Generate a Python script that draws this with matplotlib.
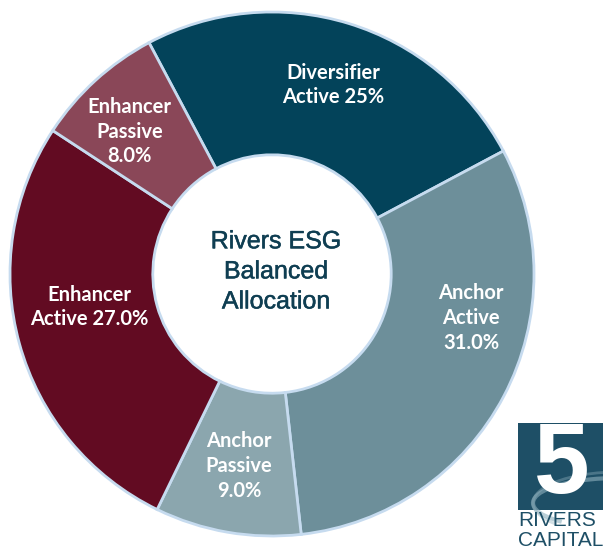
import numpy as np
import matplotlib
matplotlib.use("Agg")
import matplotlib.pyplot as plt
import matplotlib.patheffects as pe
from matplotlib.patches import Rectangle, Arc

# 데이터
labels = ["Diversifier\nActive 25%", "Anchor\nActive\n31.0%", "Anchor\nPassive\n9.0%",
          "Enhancer\nActive 27.0%", "Enhancer\nPassive\n8.0%"]
values = [25, 31, 9, 27, 8]
colors = ["#03435a", "#6d8f9a", "#8ba6ae", "#620b22", "#8a4758"]
center_title = "Rivers ESG\nBalanced\nAllocation"

# 라벨 위치 보정 (중간각 대비 각도 오프셋, 반지름 비율)
angle_shift = [-0.9, 15.3, 0.0, -5.2, 2.6]
label_r = [0.758, 0.778, 0.744, 0.71, 0.769]

W, H = 603, 551
fig = plt.figure(figsize=(W / 100, H / 100), dpi=100)
fig.patch.set_facecolor("white")

cx, cy, R = 272, 274, 262
ax = fig.add_axes([(cx - R) / W, (H - cy - R) / H, 2 * R / W, 2 * R / H])
wedges, _ = ax.pie(values, radius=1, startangle=118, counterclock=False,
                   colors=colors,
                   wedgeprops=dict(width=0.545, edgecolor="#c6dbef", linewidth=2))
ax.set_xlim(-1, 1)
ax.set_ylim(-1, 1)
ax.set_aspect("equal")
ax.axis("off")

for w, lab, da, r in zip(wedges, labels, angle_shift, label_r):
    mid = np.deg2rad((w.theta1 + w.theta2) / 2 + da)
    ax.text(r * np.cos(mid), r * np.sin(mid), lab, ha="center", va="center",
            color="white", fontsize=14.5, fontweight="bold", family="Lato",
            linespacing=1.3)

ax.text(0.015, 0.01, center_title, ha="center", va="center", color="#0f3e52",
        fontsize=18, family="Liberation Sans", linespacing=1.32,
        path_effects=[pe.withStroke(linewidth=0.35, foreground="#0f3e52")])

# 로고 (5 RIVERS CAPITAL)
lx, ly, lw, lh = 518, 423, 92, 87
fig.patches.append(Rectangle((lx / W, 1 - (ly + lh) / H), lw / W, lh / H,
                             transform=fig.transFigure, facecolor="#1e4f66",
                             edgecolor="none"))
for k, a in enumerate([0.6, 0.4]):
    arc = Arc(((lx + 100) / W, 1 - (ly + 80) / H), 170 / W, (50 + 12 * k) / H,
              theta1=95, theta2=200, transform=fig.transFigure,
              color="#8fb0bd", linewidth=3 - k, alpha=a)
    fig.patches.append(arc)
fig.text((lx + 44) / W, 1 - (ly + 44) / H, "5", ha="center", va="center",
         color="white", fontsize=72, fontweight="bold", family="Liberation Sans")
fig.text(lx / W, 1 - 521 / H, "RIVERS", ha="left", va="center", color="#1e4f66",
         fontsize=15, family="Liberation Sans")
fig.text(lx / W, 1 - 540 / H, "CAPITAL", ha="left", va="center", color="#1e4f66",
         fontsize=15, family="Liberation Sans")

fig.savefig("out.png", dpi=100, facecolor="white")
